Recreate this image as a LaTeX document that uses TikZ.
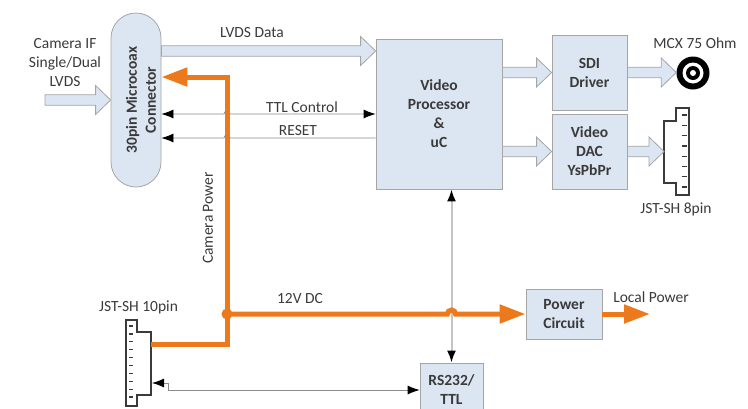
\documentclass[tikz,border=0pt]{standalone}
\usepackage{fontspec}
\setmainfont{Carlito}
\usetikzlibrary{arrows.meta,calc}
\definecolor{boxfill}{HTML}{DCE6F2}
\definecolor{boxline}{HTML}{A5A5A5}
\definecolor{pwrc}{HTML}{EC7A1C}
\definecolor{txt}{HTML}{3A3A3A}
\definecolor{sig}{HTML}{8C8C8C}
\definecolor{busc}{HTML}{C4C4C4}
% wide hollow arrow between two points on one row
\newcommand{\fatarrow}[2]{%
  \filldraw[fill=boxfill,draw=boxline,line width=0.8pt] let \p1=#1, \p2=#2 in
  (\x1,\y1+5.3pt) -- (\x2-15pt,\y1+5.3pt) -- (\x2-15pt,\y1+14.5pt) -- (\x2,\y1)
  -- (\x2-15pt,\y1-14.5pt) -- (\x2-15pt,\y1-5.3pt) -- (\x1,\y1-5.3pt) -- cycle;}
\begin{document}
\begin{tikzpicture}[x=1pt,y=-1pt,font=\fontsize{15.5}{19}\selectfont,text=txt,
	>={Latex[color=black,length=12pt,width=9pt]}]
	% line width of power rail
	\def\lw{5pt}
	\def\fnt{\fontsize{15.5}{19}\selectfont}
	% node style definition
	\tikzstyle{block} = [draw=boxline, fill=boxfill, rectangle, line width=0.8pt, align=center, inner sep=0pt, font=\fnt\bfseries];
	\tikzstyle{plain} = [draw=none, fill=none, align=center, inner sep=0pt];
	\tikzstyle{power} = [draw=pwrc, line width=\lw, -{Triangle[length=26pt,width=18pt]}];
	\tikzstyle{ctl} = [draw=sig, line width=0.8pt];
	\useasboundingbox (0,0) rectangle (748,408);
	\clip (0,0) rectangle (748,408);
	% rows
	\coordinate (ylvds) at (0,51);
	\coordinate (yttl) at (0,114);
	\coordinate (yrst) at (0,138);
	\coordinate (y12) at (0,314);
	\coordinate (yser) at (0,390);
	% blocks
	\node[block, minimum width=50pt, minimum height=174pt, rounded corners=25pt] (conn) at (136,100) {};
	\node[plain, rotate=90, font=\fnt\bfseries] (connlbl) at (141,100) {30pin Microcoax\\Connector};
	\node[block, minimum width=126pt, minimum height=150pt] (vp) at (439,114) {Video\\Processor\\\&\\uC};
	\node[block, minimum width=75pt, minimum height=75pt] (sdi) at (589.5,72.5) {SDI\\Driver};
	\node[block, minimum width=75pt, minimum height=75pt] (dac) at (589.5,151.5) {Video\\DAC\\YsPbPr};
	\node[block, minimum width=76pt, minimum height=50pt] (pwr) at (564,314) {Power\\Circuit};
	\node[block, minimum width=63pt, minimum height=54pt] (rs) at (451.5,390) {RS232/\\TTL};
	% MCX jack
	\node[circle, fill=black, minimum size=33pt, inner sep=0pt] (mcx) at (693,73) {};
	\fill[white] (mcx) circle (10.5);
	\fill[black] (mcx) circle (7);
	\fill[white] (mcx) circle (3);
	\node[plain] (mcxlbl) at (695,43) {MCX 75 Ohm};
	% JST-SH 8pin
	\coordinate (j8in) at (664,152);
	\draw[line width=1.3pt, draw=txt] (689,108) -- (676,108) -- (676,121) -- (664,121) -- (664,183) -- (676,183) -- (676,195) -- (689,195) -- cycle;
	\foreach \i in {0,...,7} {
		\draw[line width=1.3pt, draw=txt] (682,{115+\i*10.3}) -- (687,{115+\i*10.3});
	}
	\node[plain] (j8lbl) at (676,209) {JST-SH 8pin};
	% JST-SH 10pin
	\coordinate (j10out) at (151,344);
	\coordinate (j10rx) at (152,383);
	\coordinate (j10bend) at (168,383);
	\draw[line width=1.3pt, draw=txt] (126,320) -- (137,320) -- (137,332) -- (151,332) -- (151,395) -- (137,395) -- (137,406) -- (126,406) -- cycle;
	\foreach \i in {0,...,9} {
		\draw[line width=1.3pt, draw=txt] (129,{326+\i*7.9}) -- (133,{326+\i*7.9});
	}
	\node[plain] (j10lbl) at (138.5,307) {JST-SH 10pin};
	% wide data arrows
	\coordinate (camin) at (45,100);
	\fatarrow{(camin)}{(conn.west |- camin)}
	\fatarrow{(conn.east |- ylvds)}{(vp.west |- ylvds)}
	\fatarrow{(vp.east |- sdi)}{(sdi.west)}
	\fatarrow{(vp.east |- dac)}{(dac.west)}
	\fatarrow{(sdi.east)}{(mcx.west)}
	\fatarrow{(dac.east)}{(j8in)}
	\node[plain] (camlbl) at (65,63) {Camera IF\\Single/Dual\\LVDS};
	\node[plain] (lvdslbl) at (252,33) {LVDS Data};
	% control bus to RS232
	\draw[draw=busc, line width=2pt, <->] (rs.north |- vp.south) -- (rs.north);
	\draw[ctl, <->] (j10rx) -- (j10bend) -- (j10bend |- yser) -- (rs.west |- yser);
	% power rail
	\coordinate (cpw) at (227,77);
	\coordinate (lpout) at (650,314);
	\draw[power] (j10out) -- (cpw |- j10out) -- (cpw) -- (conn.east |- cpw);
	\draw[power] (cpw |- y12) -- ($(rs.north |- y12)+(-4,0)$) arc (180:360:4) -- (pwr.west);
	\draw[power] (pwr.east) -- (lpout);
	\node[circle, fill=pwrc, minimum size=11pt, inner sep=0pt] (tap) at (cpw |- y12) {};
	\node[plain, rotate=90] (cpwlbl) at (208,218) {Camera Power};
	\node[plain] (v12lbl) at (300,299) {12V DC};
	\node[plain] (lplbl) at (651,297) {Local Power};
	% control lines
	\draw[ctl, <->] (conn.east |- yttl) -- ($(cpw |- yttl)+(-3,0)$) arc (180:360:3) -- (vp.west |- yttl);
	\draw[ctl, ->] (vp.west |- yrst) -- ($(cpw |- yrst)+(3,0)$) arc (0:-180:3) -- (conn.east |- yrst);
	\node[plain] (ttllbl) at (302,107) {TTL Control};
	\node[plain] (rstlbl) at (298,131) {RESET};
\end{tikzpicture}
\end{document}
